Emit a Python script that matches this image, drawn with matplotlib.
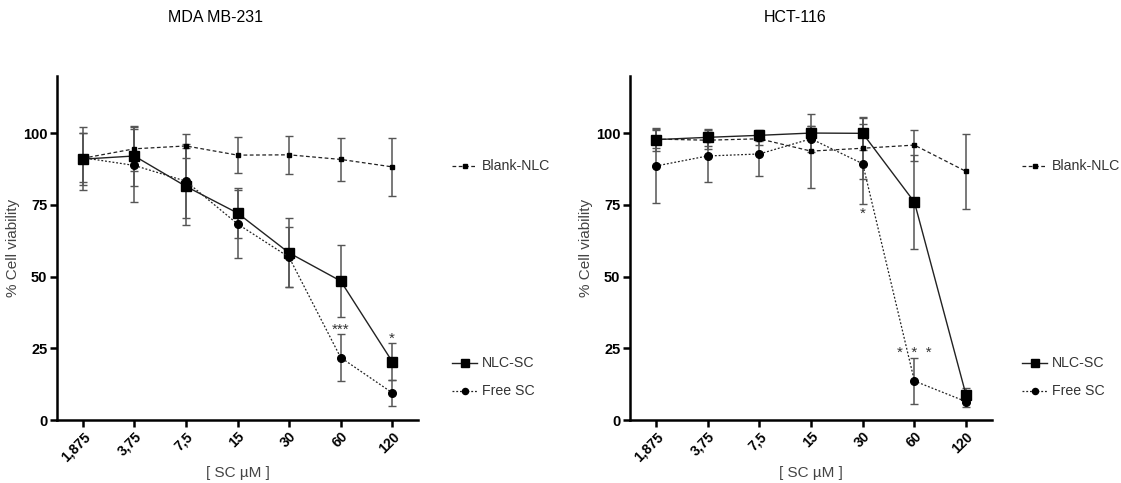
import matplotlib

matplotlib.use("Agg")
import matplotlib.pyplot as plt
from matplotlib.lines import Line2D
import numpy as np

plt.rcParams["font.family"] = ["Liberation Sans", "DejaVu Sans"]

doses = ["1,875", "3,75", "7,5", "15", "30", "60", "120"]
series = ["Blank-NLC", "NLC-SC", "Free SC"]

# MDA MB-231
mda_blank = [91.3, 94.6, 95.6, 92.4, 92.5, 90.9, 88.3]
mda_blank_err = [11.0, 7.7, 4.2, 6.2, 6.6, 7.6, 10.0]
mda_nlc = [91.0, 92.1, 81.5, 72.2, 58.3, 48.5, 20.4]
mda_nlc_err = [9.0, 10.5, 13.5, 8.7, 12.0, 12.5, 6.5]
mda_free = [91.5, 88.8, 83.3, 68.4, 56.8, 21.8, 9.5]
mda_free_err = [8.5, 12.7, 13.0, 11.8, 10.5, 8.2, 4.5]

# HCT-116
hct_blank = [98.0, 97.6, 98.1, 93.8, 94.8, 95.9, 86.7]
hct_blank_err = [3.0, 3.0, 2.0, 13.0, 10.7, 5.4, 13.2]
hct_nlc = [97.8, 98.6, 99.3, 100.1, 100.0, 76.0, 8.6]
hct_nlc_err = [4.0, 3.0, 2.0, 2.5, 5.7, 16.3, 2.5]
hct_free = [88.6, 92.1, 92.8, 98.1, 89.4, 13.6, 6.4]
hct_free_err = [13.0, 9.0, 7.7, 4.5, 14.0, 7.9, 1.7]

# significance marks: (dose index, y, text)
mda_stars = [(5, 31.5, "***"), (6, 28.5, "*")]
hct_stars = [(4, 72.0, "*"), (5, 23.5, "*  *  *")]

STYLES = {
    "Blank-NLC": dict(ls=(0, (3, 2)), marker="s", ms=3.5, lw=0.9),
    "NLC-SC": dict(ls="-", marker="s", ms=6.5, lw=1.0),
    "Free SC": dict(ls=(0, (1.5, 1.5)), marker="o", ms=5.5, lw=0.9),
}
LINE_C = "#222222"
ERR_C = "#555555"


def draw(ax, data, stars):
    x = np.arange(len(doses))
    for name, (vals, errs) in zip(series, data):
        st = STYLES[name]
        ax.errorbar(x, vals, yerr=errs, color=LINE_C, ecolor=ERR_C, elinewidth=1.1,
                    capsize=3, capthick=1.0, ls=st["ls"], lw=st["lw"],
                    marker=st["marker"], ms=st["ms"], mfc="black", mec="black", zorder=3)
    for i, y, t in stars:
        ax.text(i, y, t, ha="center", va="center", fontsize=11, color="#333333")
    ax.set_xlim(-0.5, len(doses) - 0.5)
    ax.set_ylim(0, 120)
    ax.set_yticks([0, 25, 50, 75, 100])
    ax.set_xticks(x)
    ax.set_xticklabels(doses, rotation=45, ha="right", rotation_mode="anchor")
    for lab in ax.get_xticklabels():
        lab.set_fontweight("bold")
        lab.set_fontsize(10)
    for lab in ax.get_yticklabels():
        lab.set_fontweight("bold")
        lab.set_fontsize(10.5)
    ax.spines["top"].set_visible(False)
    ax.spines["right"].set_visible(False)
    for s in ("left", "bottom"):
        ax.spines[s].set_linewidth(1.8)
    ax.tick_params(width=1.8, length=5, pad=2)
    ax.set_ylabel("% Cell viability", fontsize=11, color="#444444", labelpad=2)
    ax.set_xlabel("[ SC µM ]", fontsize=11, color="#444444", labelpad=1)


def legend_entries(fig, x_line, x_text):
    ys = {"Blank-NLC": 166, "NLC-SC": 363, "Free SC": 391}
    H = 483.0
    W = 1121.0
    for name in series:
        st = STYLES[name]
        yy = 1 - ys[name] / H
        fig.add_artist(Line2D([x_line / W, (x_line + 25) / W], [yy, yy], color=LINE_C,
                              ls=st["ls"], lw=st["lw"], transform=fig.transFigure))
        fig.add_artist(Line2D([(x_line + 12.5) / W], [yy], color=LINE_C, marker=st["marker"],
                              ms=st["ms"] * 0.8, mfc="black", mec="black", ls="none",
                              transform=fig.transFigure))
        fig.text(x_text / W, yy, name, ha="left", va="center", fontsize=10.2, color="#333333")


fig = plt.figure(figsize=(11.21, 4.83), dpi=100)
ax1 = fig.add_axes([57 / 1121, 63 / 483, 361 / 1121, 344 / 483])
ax2 = fig.add_axes([630 / 1121, 63 / 483, 362 / 1121, 344 / 483])

draw(ax1, [(mda_blank, mda_blank_err), (mda_nlc, mda_nlc_err), (mda_free, mda_free_err)], mda_stars)
draw(ax2, [(hct_blank, hct_blank_err), (hct_nlc, hct_nlc_err), (hct_free, hct_free_err)], hct_stars)

fig.text(215 / 1121, 1 - 18 / 483, "MDA MB-231", ha="center", va="center", fontsize=11.5)
fig.text(795 / 1121, 1 - 18 / 483, "HCT-116", ha="center", va="center", fontsize=11.5)

legend_entries(fig, 452, 482)
legend_entries(fig, 1022, 1052)

fig.savefig("out.png", dpi=100)
